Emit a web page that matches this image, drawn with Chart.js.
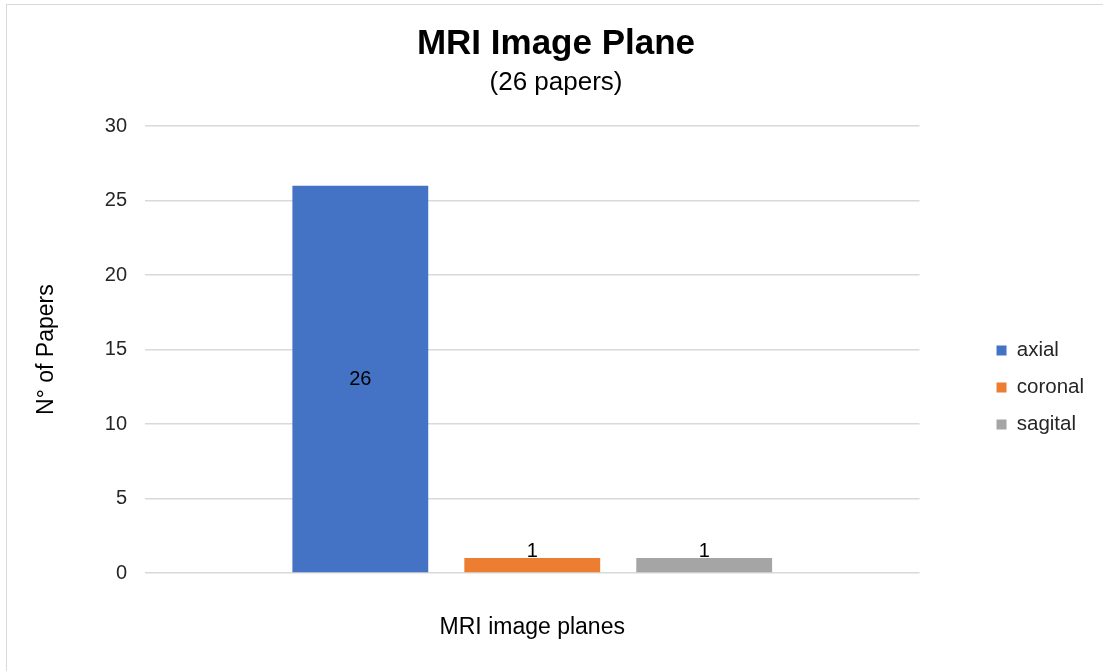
<!DOCTYPE html>
<html>
<head>
<meta charset="utf-8">
<title>MRI Image Plane</title>
<script src="https://cdn.jsdelivr.net/npm/chart.js@4.4.1/dist/chart.umd.min.js"></script>
<style>
    html, body { margin: 0; padding: 0; background: #fff; overflow: hidden; }
    #wrap { position: relative; width: 1103px; height: 671px; }
    #frame {
        position: absolute; left: 6px; top: 4px; width: 1120px; height: 700px;
        border: 1px solid #d9d9d9; box-sizing: border-box; pointer-events: none;
    }
    canvas { position: absolute; left: 0; top: 0; }
</style>
</head>
<body>
<div id="wrap">
    <canvas id="planes-chart" width="1103" height="671"></canvas>
    <div id="frame"></div>
</div>
<script>
(function () {
    "use strict";

    // data
    const categories = [""];
    const planeNames = ["axial", "coronal", "sagital"];
    const paperCounts = [26, 1, 1];
    const planeColors = ["#4472C4", "#ED7D31", "#A5A5A5"];
    const yTicks = [0, 5, 10, 15, 20, 25, 30];

    const FONT = "'Liberation Sans', Arial, Helvetica, sans-serif";
    const TEXT = "#262626";

    // value labels: centred inside tall bars, just above short ones
    const valueLabels = {
        id: "valueLabels",
        afterDatasetsDraw(chart) {
            const ctx = chart.ctx;
            ctx.save();
            ctx.font = "20px " + FONT;
            ctx.fillStyle = "#000";
            ctx.textAlign = "center";
            chart.data.datasets.forEach((ds, i) => {
                const meta = chart.getDatasetMeta(i);
                meta.data.forEach((bar, j) => {
                    const v = ds.data[j];
                    const h = bar.base - bar.y;
                    if (h > 40) {
                        ctx.textBaseline = "middle";
                        ctx.fillText(String(v), bar.x, (bar.y + bar.base) / 2);
                    } else {
                        ctx.textBaseline = "alphabetic";
                        ctx.fillText(String(v), bar.x, bar.y - 1);
                    }
                });
            });
            ctx.restore();
        }
    };

    const ctx = document.getElementById("planes-chart");

    new Chart(ctx.getContext("2d"), {
        type: "bar",
        data: {
            labels: categories,
            datasets: planeNames.map((name, i) => ({
                label: name,
                data: [paperCounts[i]],
                backgroundColor: planeColors[i],
                borderWidth: 0,
                barPercentage: 0.79,
                categoryPercentage: 0.666,
            })),
        },
        options: {
            responsive: false,
            animation: false,
            layout: { padding: { left: 18, right: 9, top: 0, bottom: 0 } },
            plugins: {
                title: {
                    display: true,
                    text: "MRI Image Plane",
                    color: "#000",
                    font: { family: FONT, size: 35, weight: "bold" },
                    padding: { top: 23, bottom: 0 },
                },
                subtitle: {
                    display: true,
                    text: "(26 papers)",
                    color: "#000",
                    font: { family: FONT, size: 26 },
                    padding: { top: 2, bottom: 28 },
                },
                legend: {
                    position: "right",
                    // blank title pushes the entries down beside the plot
                    title: {
                        display: true,
                        text: "",
                        font: { family: FONT, size: 20, lineHeight: 1 },
                        padding: { top: 42, bottom: 42 },
                    },
                    labels: {
                        boxWidth: 10,
                        boxHeight: 10,
                        padding: 16.5,
                        color: TEXT,
                        font: { family: FONT, size: 20.5 },
                    },
                },
                tooltip: { enabled: false },
            },
            scales: {
                x: {
                    grid: { display: false },
                    border: { display: false },
                    ticks: { display: false },
                    title: {
                        display: true,
                        text: "MRI image planes",
                        color: "#000",
                        font: { family: FONT, size: 23 },
                        padding: { top: 0, bottom: 30 },
                    },
                    afterFit(scale) { scale.height = 98; },
                },
                y: {
                    min: 0,
                    max: 30,
                    afterBuildTicks(scale) { scale.ticks = yTicks.map(v => ({ value: v })); },
                    grid: { color: "#d9d9d9", lineWidth: 1.5, drawTicks: false },
                    border: { display: false },
                    ticks: {
                        padding: 18,
                        color: TEXT,
                        font: { family: FONT, size: 20 },
                    },
                    title: {
                        display: true,
                        text: "N° of Papers",
                        color: "#000",
                        font: { family: FONT, size: 23 },
                        padding: { top: 15, bottom: 0 },
                    },
                    afterFit(scale) { scale.width = 127; },
                },
                // empty strip between the plot and the legend
                gap: {
                    type: "linear",
                    position: "right",
                    grid: { display: false },
                    border: { display: false },
                    ticks: { display: false },
                    afterFit(scale) { scale.width = 60.5; },
                },
            },
        },
        plugins: [valueLabels],
    });
})();
</script>
</body>
</html>
